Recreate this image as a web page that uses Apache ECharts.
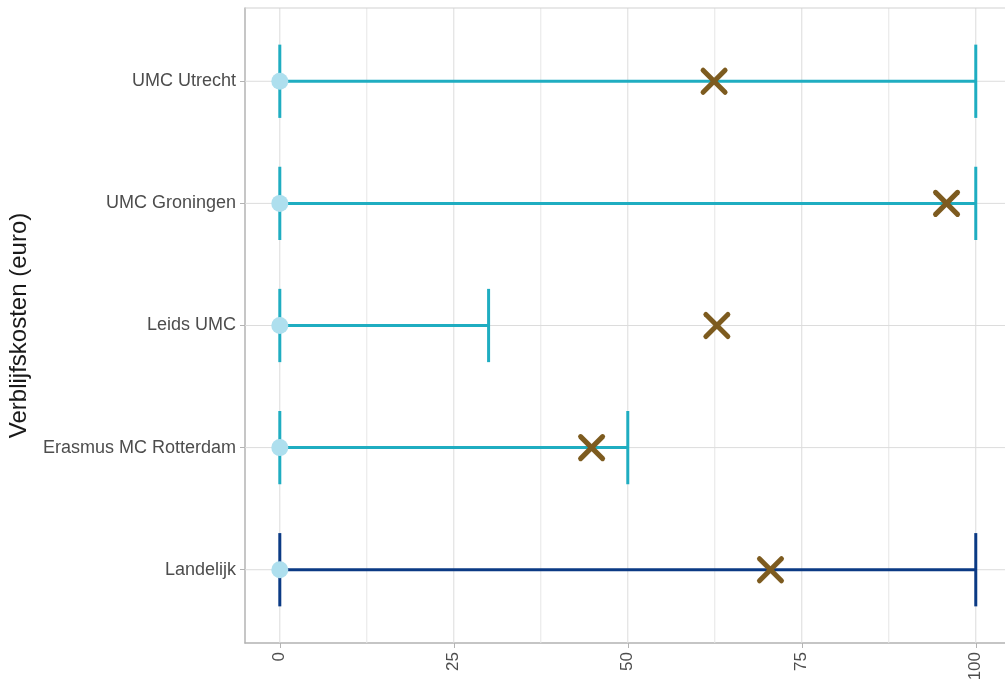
<!DOCTYPE html>
<html>
<head>
<meta charset="utf-8">
<script src="https://cdn.jsdelivr.net/npm/echarts@6/dist/echarts.min.js"></script>
<style>
html,body{margin:0;padding:0;background:#fff;}
#chart{width:1005px;height:684px;}
</style>
</head>
<body>
<div id="chart"></div>
<script>
// Categories from top to bottom as shown
const categories = ['UMC Utrecht', 'UMC Groningen', 'Leids UMC', 'Erasmus MC Rotterdam', 'Landelijk'];
const minValues = [0, 0, 0, 0, 0];
const maxValues = [100, 100, 30, 50, 100];
const meanValues = [62.4, 95.8, 62.8, 44.8, 70.5];
const barColors = ['#1fadc1', '#1fadc1', '#1fadc1', '#1fadc1', '#0b3a84'];
const xTicks = [0, 25, 50, 75, 100];
const xMinor = [12.5, 37.5, 62.5, 87.5];
const yTitle = 'Verblijfskosten (euro)';

const n = categories.length;
const yPos = categories.map((c, i) => n - i);

const errData = categories.map((c, i) => [minValues[i], maxValues[i], yPos[i], i]);
const circleData = categories.map((c, i) => [minValues[i], yPos[i]]);
const crossData = categories.map((c, i) => [meanValues[i], yPos[i]]);

const X_MIN = -5, X_MAX = 104.2, Y_MIN = 0.4, Y_MAX = 5.6;

const chart = echarts.init(document.getElementById('chart'));
const font = '"Liberation Sans", Arial, sans-serif';

chart.setOption({
  animation: false,
  backgroundColor: '#ffffff',
  grid: {left: 245, top: 8, right: 0, bottom: 41, show: false, containLabel: false, outerBoundsMode: 'none'},
  xAxis: {
    type: 'value', min: X_MIN, max: X_MAX,
    splitLine: {show: false},
    axisLine: {show: true, onZero: false, lineStyle: {color: '#b3b3b3', width: 1.5}},
    axisTick: {show: true, customValues: xTicks, length: 5, lineStyle: {color: '#b3b3b3'}},
    axisLabel: {customValues: xTicks, rotate: 90, margin: 9, fontFamily: font, fontSize: 17, color: '#4d4d4d'}
  },
  yAxis: {
    type: 'value', min: Y_MIN, max: Y_MAX,
    name: yTitle, nameLocation: 'middle', nameGap: 214, nameRotate: 90,
    nameTextStyle: {fontFamily: font, fontSize: 24, color: '#1a1a1a'},
    splitLine: {show: false},
    axisLine: {show: true, onZero: false, lineStyle: {color: '#b3b3b3', width: 1.5}},
    axisTick: {show: true, customValues: yPos, length: 5, lineStyle: {color: '#b3b3b3'}},
    axisLabel: {customValues: yPos, margin: 9, fontFamily: font, fontSize: 18, color: '#4d4d4d',
      formatter: v => categories[n - Math.round(v)]}
  },
  series: [
    {
      type: 'custom', z: 1, silent: true,
      data: [[0, 1]],
      encode: {x: 0, y: 1},
      renderItem: function (params, api) {
        const children = [];
        const top = api.coord([X_MIN, Y_MAX]);
        const bot = api.coord([X_MIN, Y_MIN]);
        const right = api.coord([X_MAX, Y_MAX]);
        xMinor.forEach(v => {
          const p = api.coord([v, Y_MIN]);
          children.push({type: 'line', shape: {x1: p[0], y1: top[1], x2: p[0], y2: bot[1]}, style: {stroke: '#e6e6e6', lineWidth: 1}});
        });
        xTicks.forEach(v => {
          const p = api.coord([v, Y_MIN]);
          children.push({type: 'line', shape: {x1: p[0], y1: top[1], x2: p[0], y2: bot[1]}, style: {stroke: '#dcdcdc', lineWidth: 1}});
        });
        yPos.forEach(v => {
          const p = api.coord([X_MIN, v]);
          children.push({type: 'line', shape: {x1: top[0], y1: p[1], x2: right[0], y2: p[1]}, style: {stroke: '#dcdcdc', lineWidth: 1}});
        });
        children.push({type: 'line', shape: {x1: top[0], y1: top[1], x2: right[0] + 2, y2: top[1]}, style: {stroke: '#d2d2d2', lineWidth: 1.2}});
        return {type: 'group', children: children};
      }
    },
    {
      type: 'custom', z: 3,
      data: errData,
      encode: {x: [0, 1], y: 2},
      renderItem: function (params, api) {
        const lo = api.value(0), hi = api.value(1), y = api.value(2), idx = api.value(3);
        const a = api.coord([lo, y]);
        const b = api.coord([hi, y]);
        const h = api.size([0, 0.3])[1];
        const st = {stroke: barColors[idx], lineWidth: 3};
        return {type: 'group', children: [
          {type: 'line', shape: {x1: a[0], y1: a[1], x2: b[0], y2: b[1]}, style: st},
          {type: 'line', shape: {x1: a[0], y1: a[1] - h, x2: a[0], y2: a[1] + h}, style: st},
          {type: 'line', shape: {x1: b[0], y1: b[1] - h, x2: b[0], y2: b[1] + h}, style: st}
        ]};
      }
    },
    {
      type: 'scatter', z: 4, data: circleData, symbol: 'circle', symbolSize: 17,
      itemStyle: {color: '#aedfee', opacity: 1}
    },
    {
      type: 'custom', z: 5,
      data: crossData,
      encode: {x: 0, y: 1},
      renderItem: function (params, api) {
        const p = api.coord([api.value(0), api.value(1)]);
        const r = 11;
        const st = {stroke: '#7d5b1f', lineWidth: 5, lineCap: 'round'};
        return {type: 'group', children: [
          {type: 'line', shape: {x1: p[0] - r, y1: p[1] - r, x2: p[0] + r, y2: p[1] + r}, style: st},
          {type: 'line', shape: {x1: p[0] - r, y1: p[1] + r, x2: p[0] + r, y2: p[1] - r}, style: st}
        ]};
      }
    }
  ]
});
</script>
</body>
</html>
